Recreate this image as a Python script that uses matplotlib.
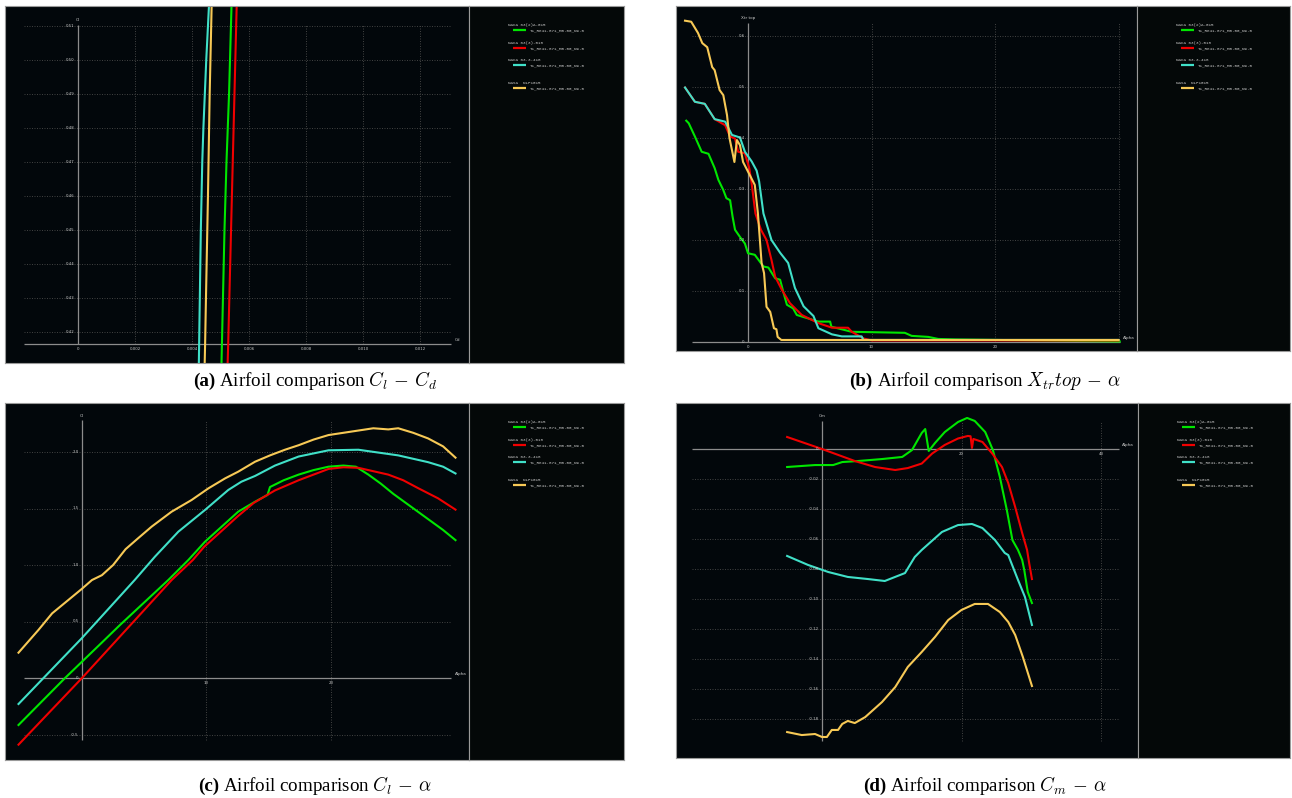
import numpy as np
import matplotlib.pyplot as plt

plt.rcParams['mathtext.fontset'] = 'cm'

W, H = 1292, 798
BG = '#02070b'
LEG_BG = '#040808'
BORDER = '#9a9a9a'
GRID = '#4a4a4a'
AXIS = '#8c8c8c'
TXT = '#c8c8c8'

airfoils = ['NACA 63(2)A-015', 'NACA 63(3)-018', 'NACA 63.3-418', 'NASA  NLF1015']
polar_name = 'T1_Re41.871_M0.00_N9.0'
colors = ['#00e600', '#f00000', '#40e0c8', '#f7c956']

# (a) Cl - Cd
cd_a_green = [0.00502, 0.00505, 0.00514, 0.00521, 0.00530, 0.0054]
cl_a_green = [0.405, 0.4165, 0.45, 0.47, 0.49, 0.52]
cd_a_red = [0.00523, 0.00527, 0.00537, 0.00546, 0.00558]
cl_a_red = [0.405, 0.4165, 0.45, 0.48, 0.52]
cd_a_cyan = [0.00423, 0.00425, 0.00431, 0.00436, 0.0044, 0.0045, 0.00462]
cl_a_cyan = [0.405, 0.4165, 0.45, 0.47, 0.48, 0.50, 0.52]
cd_a_yellow = [0.00443, 0.00446, 0.00449, 0.00456, 0.00462, 0.0047]
cl_a_yellow = [0.405, 0.4165, 0.43, 0.46, 0.49, 0.52]

# (b) Xtr top - alpha
al_b_green = [-5.0, -4.8, -4.3, -3.75, -3.2, -2.7, -2.4, -2.0, -1.75, -1.45, -1.25, -1.05, -0.65,
              -0.25, 0.0, 0.55, 1.25, 1.65, 2.2, 2.6, 2.85, 3.15, 3.65, 3.95, 4.9, 5.7, 6.65, 6.75,
              8.4, 12.7, 13.25, 14.6, 15.4, 16.8, 30.1]
xtr_b_green = [0.434, 0.429, 0.403, 0.373, 0.369, 0.341, 0.318, 0.298, 0.282, 0.278, 0.246, 0.220,
               0.206, 0.193, 0.174, 0.171, 0.148, 0.146, 0.125, 0.122, 0.099, 0.073, 0.066, 0.053,
               0.046, 0.040, 0.040, 0.030, 0.020, 0.018, 0.012, 0.010, 0.006, 0.005, 0.001]
al_b_red = [-5.1, -4.3, -3.5, -2.7, -1.85, -1.45, -1.05, -0.8, -0.25, 0.1, 0.3, 0.6, 1.05, 1.5,
            1.9, 2.2, 2.75, 3.4, 4.35, 5.7, 6.8, 8.1, 8.4, 9.35, 10.0, 30.0]
xtr_b_red = [0.499, 0.471, 0.467, 0.437, 0.425, 0.403, 0.399, 0.373, 0.370, 0.341, 0.31, 0.252,
             0.220, 0.200, 0.161, 0.128, 0.102, 0.076, 0.053, 0.037, 0.028, 0.028, 0.020, 0.007,
             0.003, 0.003]
al_b_cyan = [-5.1, -4.3, -3.5, -2.7, -1.85, -1.3, -0.65, -0.25, 0.3, 0.7, 0.9, 1.25, 1.9, 2.6,
             3.25, 3.8, 4.5, 5.3, 5.7, 6.8, 7.6, 9.2, 9.35, 30.0]
xtr_b_cyan = [0.499, 0.471, 0.467, 0.437, 0.432, 0.406, 0.401, 0.373, 0.354, 0.336, 0.315, 0.252,
              0.200, 0.175, 0.155, 0.106, 0.070, 0.051, 0.027, 0.015, 0.011, 0.011, 0.004, 0.004]
al_b_yellow = [-5.1, -4.6, -4.05, -3.7, -3.3, -2.9, -2.7, -2.3, -2.0, -1.7, -1.5, -1.1, -0.9,
               -0.65, -0.4, 0.15, 0.55, 0.8, 1.1, 1.3, 1.5, 1.8, 1.95, 2.1, 2.3, 2.4, 2.7, 30.0]
xtr_b_yellow = [0.63, 0.628, 0.606, 0.586, 0.578, 0.539, 0.533, 0.494, 0.484, 0.445, 0.40, 0.353,
                0.396, 0.386, 0.353, 0.327, 0.308, 0.253, 0.155, 0.135, 0.069, 0.059, 0.043,
                0.027, 0.025, 0.01, 0.004, 0.004]

# (c) Cl - alpha
al_c_green = [-5.1, -1.36, 1.58, 3.05, 6.93, 8.54, 9.88, 12.55, 13.9, 14.9, 15.1, 16.2, 17.4,
              18.6, 19.8, 21.0, 22.0, 23.0, 24.0, 25.0, 26.0, 27.0, 28.0, 29.0, 30.0]
cl_c_green = [-0.416, 0.0, 0.312, 0.469, 0.867, 1.044, 1.206, 1.472, 1.56, 1.62, 1.69, 1.75,
              1.80, 1.84, 1.87, 1.88, 1.87, 1.80, 1.72, 1.63, 1.55, 1.47, 1.39, 1.31, 1.22]
al_c_red = [-5.1, 0.0, 7.2, 8.9, 9.8, 12.5, 13.8, 15.5, 17.4, 19.8, 21.0, 22.2, 23.4, 24.6,
            25.8, 27.0, 28.6, 30.0]
cl_c_red = [-0.59, 0.0, 0.867, 1.044, 1.16, 1.43, 1.55, 1.66, 1.75, 1.85, 1.865, 1.86, 1.83,
            1.80, 1.75, 1.68, 1.59, 1.49]
al_c_cyan = [-5.1, 0.0, 4.23, 5.86, 7.74, 9.88, 11.75, 12.8, 13.9, 15.5, 17.4, 19.8, 22.2,
             25.4, 27.8, 29.0, 30.0]
cl_c_cyan = [-0.23, 0.354, 0.867, 1.074, 1.295, 1.487, 1.664, 1.737, 1.788, 1.88, 1.96, 2.015,
             2.02, 1.97, 1.91, 1.87, 1.81]
al_c_yellow = [-5.1, -3.5, -2.4, -1.1, 0.0, 0.8, 1.6, 2.5, 3.5, 4.5, 5.6, 7.2, 8.8, 10.15,
               11.5, 12.55, 13.9, 15.1, 16.3, 17.4, 18.6, 19.8, 21.0, 22.2, 23.4, 24.6, 25.4,
               26.6, 27.8, 29.0, 30.0]
cl_c_yellow = [0.224, 0.425, 0.572, 0.69, 0.79, 0.867, 0.91, 1.0, 1.14, 1.236, 1.34, 1.472,
               1.575, 1.678, 1.767, 1.826, 1.914, 1.97, 2.02, 2.06, 2.11, 2.15, 2.17, 2.19,
               2.21, 2.20, 2.21, 2.17, 2.12, 2.05, 1.95]

# (d) Cm - alpha
al_d_green = [-5.0, -1.0, 1.6, 2.9, 5.2, 8.6, 11.5, 12.9, 14.3, 14.8, 15.3, 16.2, 17.6, 19.5,
              20.8, 21.9, 23.4, 24.5, 25.5, 26.5, 27.3, 28.1, 28.7, 29.0, 29.5, 30.1]
cm_d_green = [-0.012, -0.0107, -0.0107, -0.0087, -0.008, -0.0067, -0.0053, -0.0007, 0.0107,
              0.0133, -0.0013, 0.004, 0.0113, 0.018, 0.0207, 0.0187, 0.0113, -0.0007, -0.0187,
              -0.0407, -0.0607, -0.0673, -0.074, -0.0807, -0.0953, -0.1027]
al_d_red = [-5.0, 0.0, 4.7, 7.6, 10.5, 12.3, 14.3, 15.8, 17.6, 19.5, 20.9, 21.3, 21.5, 21.7,
            23.0, 24.4, 25.8, 26.7, 27.7, 28.7, 29.4, 29.7, 30.1]
cm_d_red = [0.008, 0.0, -0.008, -0.012, -0.014, -0.0127, -0.0097, -0.003, 0.0027, 0.007,
            0.0087, 0.0085, 0.0007, 0.0067, 0.0047, -0.003, -0.012, -0.0227, -0.0387, -0.056,
            -0.0673, -0.076, -0.0867]
al_d_cyan = [-5.0, -2.0, 0.9, 3.7, 6.6, 9.0, 11.9, 13.3, 14.3, 17.2, 19.5, 21.5, 23.0, 24.8,
             26.2, 26.7, 28.1, 29.1, 30.1]
cm_d_cyan = [-0.0713, -0.0773, -0.082, -0.0853, -0.0867, -0.088, -0.0827, -0.072, -0.0673,
             -0.0553, -0.0507, -0.05, -0.0527, -0.0607, -0.0693, -0.0707, -0.0873, -0.0987,
             -0.1173]
al_d_yellow = [-5.0, -2.9, -1.0, 0.0, 0.7, 1.4, 2.3, 2.9, 3.7, 4.7, 6.2, 8.6, 10.5, 12.3, 14.3,
               16.2, 18.1, 20.0, 21.9, 23.8, 25.5, 26.7, 27.7, 28.8, 30.1]
cm_d_yellow = [-0.1887, -0.1907, -0.19, -0.192, -0.192, -0.1873, -0.1873, -0.1833, -0.1813,
               -0.1827, -0.1787, -0.1687, -0.1587, -0.1453, -0.1353, -0.1253, -0.114, -0.1073,
               -0.1033, -0.1033, -0.1087, -0.1153, -0.124, -0.1387, -0.158]

# axis ticks and labels
a_xticks = [0, 0.002, 0.004, 0.006, 0.008, 0.010, 0.012]
a_xlabels = ['0', '0.002', '0.004', '0.006', '0.008', '0.010', '0.012']
a_yticks = [0.42, 0.43, 0.44, 0.45, 0.46, 0.47, 0.48, 0.49, 0.50, 0.51]
a_ylabels = ['0.42', '0.43', '0.44', '0.45', '0.46', '0.47', '0.48', '0.49', '0.50', '0.51']
b_xticks = [0, 10, 20]
b_xlabels = ['0', '10', '20']
b_yticks = [0, 0.1, 0.2, 0.3, 0.4, 0.5, 0.6]
b_ylabels = ['0', '0.1', '0.2', '0.3', '0.4', '0.5', '0.6']
c_xticks = [10, 20]
c_xlabels = ['10', '20']
c_yticks = [-0.5, 0, 0.5, 1.0, 1.5, 2.0]
c_ylabels = ['-0.5', '0', '0.5', '1.0', '1.5', '2.0']
d_xticks = [20, 40]
d_xlabels = ['20', '40']
d_yticks = [0, -0.02, -0.04, -0.06, -0.08, -0.10, -0.12, -0.14, -0.16, -0.18]
d_ylabels = ['0', '-0.02', '-0.04', '-0.06', '-0.08', '-0.10', '-0.12', '-0.14', '-0.16', '-0.18']

fig = plt.figure(figsize=(W / 100, H / 100), dpi=100)
fig.patch.set_facecolor('white')


def px_axes(x0, y0, x1, y1):
    return fig.add_axes([x0 / W, 1 - y1 / H, (x1 - x0) / W, (y1 - y0) / H])


def plot_axes(rect, x_zero_px, px_per_x, y_zero_px, px_per_y):
    ax = px_axes(*rect)
    ax.set_facecolor(BG)
    ax.set_xlim((rect[0] - x_zero_px) / px_per_x, (rect[2] - x_zero_px) / px_per_x)
    ax.set_ylim((y_zero_px - rect[3]) / px_per_y, (y_zero_px - rect[1]) / px_per_y)
    ax.set_xticks([])
    ax.set_yticks([])
    for s in ax.spines.values():
        s.set_color(BORDER)
        s.set_linewidth(0.8)
    return ax


def draw_frame(ax, xticks, xlabels, yticks, ylabels, x_axis_at, xspan, yspan,
               xgrid, ygrid, xname, yname):
    ax.hlines(ygrid, xspan[0], xspan[1], colors=GRID, linestyles=(0, (1.2, 1.8)), lw=0.6)
    ax.vlines(xgrid, yspan[0], yspan[1], colors=GRID, linestyles=(0, (1.2, 1.8)), lw=0.6)
    ax.hlines(x_axis_at, xspan[0], xspan[1], colors=AXIS, lw=0.9)
    ax.vlines(0, yspan[0], yspan[1], colors=AXIS, lw=0.9)
    for t, lab in zip(xticks, xlabels):
        ax.annotate(lab, (t, x_axis_at), xytext=(0, -2), textcoords='offset points',
                    ha='center', va='top', fontsize=2.8, color=TXT)
    for t, lab in zip(yticks, ylabels):
        ax.annotate(lab, (0, t), xytext=(-2.5, 0), textcoords='offset points',
                    ha='right', va='center', fontsize=2.8, color=TXT)
    ax.annotate(xname, (xspan[1], x_axis_at), xytext=(2.5, 1.5), textcoords='offset points',
                ha='left', va='bottom', fontsize=3.0, color=TXT)
    ax.annotate(yname, (0, yspan[1]), xytext=(0, 2), textcoords='offset points',
                ha='center', va='bottom', fontsize=3.0, color=TXT)


def draw_legend(rect):
    lx = px_axes(*rect)
    lx.set_facecolor(LEG_BG)
    lx.set_xlim(0, rect[2] - rect[0])
    lx.set_ylim(rect[3] - rect[1], 0)
    lx.set_xticks([])
    lx.set_yticks([])
    for s in lx.spines.values():
        s.set_color(BORDER)
        s.set_linewidth(0.8)
    rows = [19, 37, 54, 77]
    for y, name, c in zip(rows, airfoils, colors):
        lx.text(39, y, name, fontsize=3.1, family='Liberation Mono', color=TXT,
                ha='left', va='center')
        lx.plot([44, 57], [y + 5, y + 5], color=c, lw=1.6, solid_capstyle='butt')
        lx.text(61, y + 5, polar_name, fontsize=3.1, family='Liberation Mono', color=TXT,
                ha='left', va='center')


def draw_curves(ax, series):
    for (xs, ys), c in zip(series, colors):
        ax.plot(xs, ys, color=c, lw=1.5, solid_joinstyle='round')


# panel (a)
ax = plot_axes((5, 6, 469, 363), 78, 28500, 332 + 0.42 * 3400, 3400)
draw_frame(ax, a_xticks, a_xlabels, a_yticks, a_ylabels, 0.41647, (-0.001895, 0.013088),
           (0.41647, 0.5103), a_xticks[1:], a_yticks, 'Cd', 'Cl')
draw_curves(ax, [(cd_a_green, cl_a_green), (cd_a_red, cl_a_red),
                 (cd_a_cyan, cl_a_cyan), (cd_a_yellow, cl_a_yellow)])
draw_legend((469, 6, 624, 363))

# panel (b)
ax = plot_axes((676, 6, 1137, 351), 748, 12.35, 342, 510)
draw_frame(ax, b_xticks, b_xlabels, b_yticks, b_ylabels, 0, (-4.53, 30.12), (0, 0.625),
           [10, 20, 30], b_yticks[1:], 'Alpha', 'Xtr top')
draw_curves(ax, [(al_b_green, xtr_b_green), (al_b_red, xtr_b_red),
                 (al_b_cyan, xtr_b_cyan), (al_b_yellow, xtr_b_yellow)])
draw_legend((1137, 6, 1290, 351))

# panel (c)
ax = plot_axes((5, 403, 469, 760), 82, 12.45, 678, 113)
draw_frame(ax, c_xticks, c_xlabels, c_yticks, c_ylabels, 0, (-4.66, 29.64), (-0.55, 2.28),
           c_xticks, [-0.5, 0.5, 1.0, 1.5, 2.0], 'Alpha', 'Cl')
draw_curves(ax, [(al_c_green, cl_c_green), (al_c_red, cl_c_red),
                 (al_c_cyan, cl_c_cyan), (al_c_yellow, cl_c_yellow)])
draw_legend((469, 403, 624, 760))

# panel (d)
ax = plot_axes((676, 403, 1138, 758), 822, 6.975, 449, 1500)
draw_frame(ax, d_xticks, d_xlabels, d_yticks, d_ylabels, 0, (-18.64, 42.58), (-0.1947, 0.0187),
           d_xticks, d_yticks[1:], 'Alpha', 'Cm')
draw_curves(ax, [(al_d_green, cm_d_green), (al_d_red, cm_d_red),
                 (al_d_cyan, cm_d_cyan), (al_d_yellow, cm_d_yellow)])
draw_legend((1138, 403, 1290, 758))

# captions
captions = [
    ('(a)', r'Airfoil comparison $C_l\,-\,C_d$', 315, 386),
    ('(b)', r'Airfoil comparison $X_{tr}top\,-\,\alpha$', 985, 386),
    ('(c)', r'Airfoil comparison $C_l\,-\,\alpha$', 315, 791),
    ('(d)', r'Airfoil comparison $C_m\,-\,\alpha$', 985, 791),
]
renderer = fig.canvas.get_renderer()
for tag, text, cx, by in captions:
    t1 = fig.text(0, 1 - by / H, tag, fontsize=13.7, fontweight='bold',
                  family='Liberation Serif', va='baseline', ha='left')
    t2 = fig.text(0, 1 - by / H, text, fontsize=13.7, family='Liberation Serif',
                  va='baseline', ha='left')
    w1 = t1.get_window_extent(renderer).width
    w2 = t2.get_window_extent(renderer).width
    gap = 4
    x0 = cx - (w1 + gap + w2) / 2
    t1.set_x(x0 / W)
    t2.set_x((x0 + w1 + gap) / W)

fig.savefig('out.png', dpi=100, facecolor='white')
